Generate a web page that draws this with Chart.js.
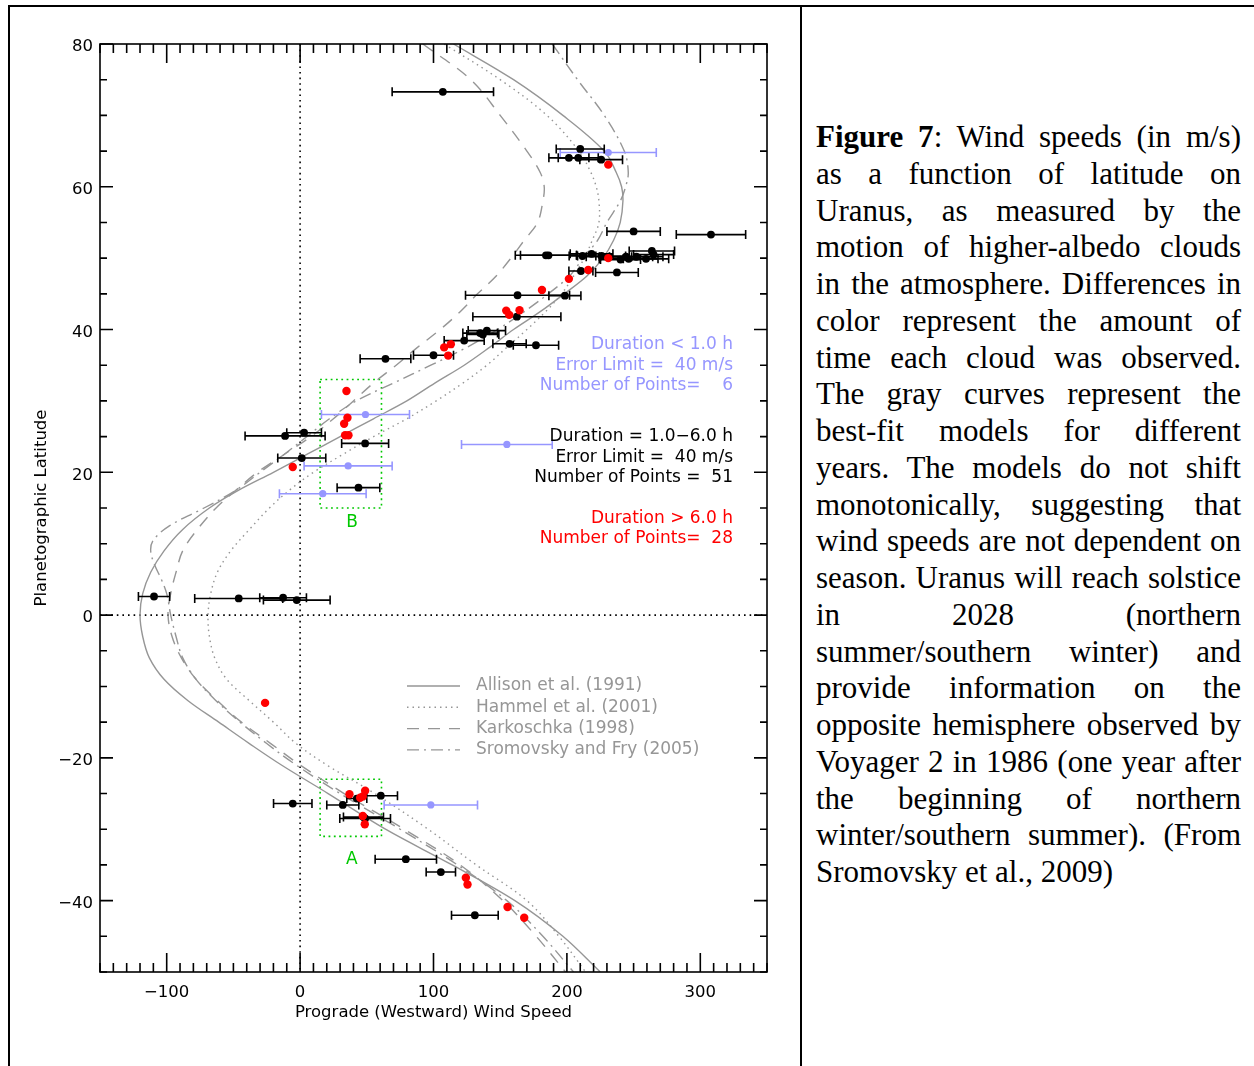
<!DOCTYPE html>
<html><head><meta charset="utf-8">
<script src="https://cdn.jsdelivr.net/npm/chart.js@4.4.1/dist/chart.umd.min.js"></script>
<style>
html,body{margin:0;padding:0;background:#fff;}
body{width:1254px;height:1066px;position:relative;overflow:hidden;}
#wrap{position:absolute;left:0;top:0;width:800px;height:1066px;}
.ln{position:absolute;background:#000;}
#cap{position:absolute;left:816px;top:119px;width:425px;font-family:"Liberation Serif","Times New Roman",serif;font-size:31px;line-height:36.75px;color:#000;}
#cap div{text-align:justify;text-align-last:justify;}
#cap div.last{text-align:left;text-align-last:left;}
</style></head>
<body>
<div class="ln" style="left:8px;top:5px;width:1246px;height:2px"></div>
<div class="ln" style="left:8px;top:5px;width:2px;height:1061px"></div>
<div class="ln" style="left:800px;top:5px;width:2px;height:1061px"></div>
<div id="wrap"><canvas id="c" width="800" height="1066"></canvas></div>
<div id="cap">
<div><b>Figure 7</b>: Wind speeds (in m/s)</div>
<div>as a function of latitude on</div>
<div>Uranus, as measured by the</div>
<div>motion of higher-albedo clouds</div>
<div>in the atmosphere. Differences in</div>
<div>color represent the amount of</div>
<div>time each cloud was observed.</div>
<div>The gray curves represent the</div>
<div>best-fit models for different</div>
<div>years. The models do not shift</div>
<div>monotonically, suggesting that</div>
<div>wind speeds are not dependent on</div>
<div>season. Uranus will reach solstice</div>
<div>in 2028 (northern</div>
<div>summer/southern winter) and</div>
<div>provide information on the</div>
<div>opposite hemisphere observed by</div>
<div>Voyager 2 in 1986 (one year after</div>
<div>the beginning of northern</div>
<div>winter/southern summer). (From</div>
<div class="last">Sromovsky et al., 2009)</div>
</div>
<script>
// ---- axes ----
const xTicks = [-100, 0, 100, 200, 300];
const yTicks = [80, 60, 40, 20, 0, -20, -40];

// ---- observations: Duration < 1.0 h (blue) ----
const blueX   = [231, 49, 155, 36, 17, 98];
const blueY   = [64.8, 28.1, 23.9, 20.9, 17.0, -26.6];
const blueErr = [36, 33, 34, 33, 32.5, 35];

// ---- observations: Duration 1.0-6.0 h (black) ----
const blackX = [107, 210, 201.5, 208.5, 225.7, 250, 308,
  184.3, 186.2, 211.7, 218.5, 226, 231.5, 240.2, 244.3, 246.3, 252, 259.3, 263.7, 265,
  210.5, 237.5, 163, 198.5, 162.5, 135, 140, 137, 123, 157, 176.8, 100, 64,
  -11.25, 3, 48.75, 1.25, 43.75,
  -109.5, -46, -12.75, -2.5,
  -5.5, 32, 42.5, 60.5, 47.5, 48.75, 79.25, 105.5, 131];
const blackY = [73.3, 65.3, 64.05, 64.05, 63.8, 53.75, 53.3,
  50.4, 50.4, 50.3, 50.6, 50.3, 50.2, 49.8, 50.2, 49.9, 50.2, 49.9, 51.0, 50.5,
  48.2, 48.0, 44.8, 44.75, 41.8, 39.5, 39.85, 39.3, 38.45, 38.0, 37.8, 36.4, 35.9,
  25.1, 25.55, 24.05, 22.0, 17.85,
  2.6, 2.33, 2.43, 2.1,
  -26.4, -26.6, -25.7, -25.3, -28.3, -28.5, -34.2, -36.0, -42.05];
const blackErr = [38, 18, 15, 15, 16, 20, 26,
  23, 21, 10, 16, 18, 17, 15, 20, 22, 20, 17, 17, 15,
  9, 16, 39, 12, 33, 13, 14, 12, 15, 12.5, 17, 15, 19,
  30, 13, 17.6, 18, 16,
  11.7, 33, 17.5, 25,
  14.4, 12, 7.5, 12.5, 15, 19, 23, 11, 17.5];

// ---- observations: Duration > 6.0 h (red) ----
const redX = [231, 231, 216, 201.5, 181.3, 154.5, 156.8, 164.5, 108, 113, 111,
  34.75, 35.5, 33, 33.75, 36.25, -5.5, -26.25,
  37, 48.75, 45, 47, 47, 48.5, 124.25, 125.5, 155.5, 168];
const redY = [63.1, 50.0, 48.35, 47.1, 45.55, 42.65, 42.05, 42.7, 37.5, 37.95, 36.35,
  31.4, 27.65, 26.8, 25.2, 25.2, 20.75, -12.3,
  -25.1, -24.6, -25.6, -25.4, -28.15, -29.3, -36.8, -37.75, -40.9, -42.4];

// ---- model curves (latitude -> wind speed) ----
const modelLat = [80,75,70,65,62,60,58,55,52.5,50,47.5,45,42.5,40,37.5,35,32.5,30,27.5,25,22.5,20,17.5,15,12,9,6,3,0,-3,-6,-9,-12,-15,-18,-21,-25,-30,-35,-40,-45,-50];
const allisonX = [115,160,197,228,237,241,242,240,235,227,215,198,180,160,142,123,101,80,55,30,5,-20,-46,-68,-88,-102,-112,-118,-120,-118,-113,-102,-84,-61,-38,-14,21,64,114,161,197,225];
const hammelX  = [108,150,185,209,218,222,224,224,219,213,205,196,184,170,155,140,122,102,80,55,32,10,-8,-23,-38,-52,-62,-67,-69,-68,-64,-55,-38,-20,-3,20,56,96,132,170,194,214];
const karkX    = [92,128,150,170,180,183,182,178,168,158,147,133,120,105,88,72,55,40,25,8,-12,-32,-48,-63,-77,-88,-93,-97,-99,-96,-89,-78,-62,-44,-22,0,33,78,120,152,177,199];
const srLat = [80,75,70,65,62,60,58,55,52.5,50,47.5,45,42.5,40,37.5,35,32.5,30,27.5,25,22.5,20,17.5,15,12.5,10.5,9,7,5,3,0,-3,-6,-9,-12,-15,-18,-21,-25,-30,-35,-40,-45,-50];
const srX   = [189,208,228,243,246,244,240,230,223,212,202,186,168,148,125,98,70,42,22,5,-12,-30,-48,-72,-98,-110,-112,-109,-104,-100,-97,-93,-88,-78,-63,-45,-25,-3,30,75,118,155,182,205];

// ---- annotation boxes ----
const boxAX = [15, 61], boxAY = [-31, -23];
const boxBX = [15, 61], boxBY = [15, 33];
const labelA = [38.75, -34.2], labelB = [39, 13];

const pts = (xs, ys) => xs.map((x, i) => ({x, y: ys[i]}));
const GRAY = 'rgb(150,150,150)';
const BLUE = 'rgb(150,150,255)';
const RED = '#ff0000';
const GREEN = '#00c800';
const FONT = '"DejaVu Sans", sans-serif';

function curve(lat, xs, dash) {
  return {type: 'line', data: pts(xs, lat), borderColor: GRAY, borderWidth: 1.4,
    borderDash: dash, pointRadius: 0, showLine: true, fill: false, tension: 0.35, order: 10};
}

const datasets = [
  curve(modelLat, allisonX, []),
  curve(modelLat, hammelX, [1.5, 4]),
  curve(modelLat, karkX, [12, 9]),
  curve(srLat, srX, [12, 5, 2, 5]),
  {label: 'blue', data: pts(blueX, blueY), errX: blueErr, errColor: BLUE, backgroundColor: BLUE,
    pointRadius: 3.6, pointBorderWidth: 0, order: 3},
  {label: 'black', data: pts(blackX, blackY), errX: blackErr, errColor: '#000', backgroundColor: '#000',
    pointRadius: 3.9, pointBorderWidth: 0, order: 2},
  {label: 'red', data: pts(redX, redY), backgroundColor: RED, pointRadius: 4.2, pointBorderWidth: 0, order: 1}
];

const errPlugin = {
  id: 'err',
  beforeDatasetDraw(chart, args) {
    const ds = chart.data.datasets[args.index];
    if (!ds.errX) return;
    const xs = chart.scales.x, ys = chart.scales.y, ctx = chart.ctx, a = chart.chartArea;
    ctx.save();
    ctx.beginPath(); ctx.rect(a.left, a.top, a.right - a.left, a.bottom - a.top); ctx.clip();
    ctx.strokeStyle = ds.errColor; ctx.lineWidth = 1.6; ctx.setLineDash([]);
    ds.data.forEach((p, i) => {
      const e = ds.errX[i];
      const x1 = xs.getPixelForValue(p.x - e), x2 = xs.getPixelForValue(p.x + e), y = ys.getPixelForValue(p.y);
      ctx.beginPath();
      ctx.moveTo(x1, y); ctx.lineTo(x2, y);
      ctx.moveTo(x1, y - 4.5); ctx.lineTo(x1, y + 4.5);
      ctx.moveTo(x2, y - 4.5); ctx.lineTo(x2, y + 4.5);
      ctx.stroke();
    });
    ctx.restore();
  }
};

const underPlugin = {
  id: 'under',
  beforeDatasetsDraw(chart) {
    const xs = chart.scales.x, ys = chart.scales.y, ctx = chart.ctx, a = chart.chartArea;
    ctx.save();
    ctx.strokeStyle = '#000'; ctx.lineWidth = 1.6; ctx.setLineDash([1.6, 4]);
    const x0 = xs.getPixelForValue(0), y0 = ys.getPixelForValue(0);
    ctx.beginPath(); ctx.moveTo(x0, a.top); ctx.lineTo(x0, a.bottom); ctx.stroke();
    ctx.beginPath(); ctx.moveTo(a.left, y0); ctx.lineTo(a.right, y0); ctx.stroke();
    ctx.strokeStyle = GREEN; ctx.lineWidth = 1.6; ctx.setLineDash([1.8, 3.5]);
    [[boxAX, boxAY], [boxBX, boxBY]].forEach(([bx, by]) => {
      const l = xs.getPixelForValue(bx[0]), r = xs.getPixelForValue(bx[1]);
      const t = ys.getPixelForValue(by[1]), b = ys.getPixelForValue(by[0]);
      ctx.strokeRect(l, t, r - l, b - t);
    });
    ctx.setLineDash([]);
    ctx.fillStyle = GREEN; ctx.font = '17px ' + FONT; ctx.textAlign = 'center'; ctx.textBaseline = 'middle';
    ctx.fillText('A', xs.getPixelForValue(labelA[0]), ys.getPixelForValue(labelA[1]));
    ctx.fillText('B', xs.getPixelForValue(labelB[0]), ys.getPixelForValue(labelB[1]));
    ctx.restore();
  }
};

const framePlugin = {
  id: 'frame',
  afterDraw(chart) {
    const xs = chart.scales.x, ys = chart.scales.y, ctx = chart.ctx, a = chart.chartArea;
    ctx.save();
    ctx.strokeStyle = '#000'; ctx.lineWidth = 1.6; ctx.setLineDash([]);
    ctx.strokeRect(a.left, a.top, a.right - a.left, a.bottom - a.top);
    ctx.beginPath();
    for (let v = xs.min; v <= xs.max + 1e-6; v += 10) {
      const major = xTicks.includes(v);
      const L = major ? 19 : 9, p = xs.getPixelForValue(v);
      ctx.moveTo(p, a.bottom); ctx.lineTo(p, a.bottom - L);
      ctx.moveTo(p, a.top); ctx.lineTo(p, a.top + L);
    }
    for (let v = ys.min; v <= ys.max + 1e-6; v += 5) {
      const major = yTicks.includes(v);
      const L = major ? 13 : 7, p = ys.getPixelForValue(v);
      ctx.moveTo(a.left, p); ctx.lineTo(a.left + L, p);
      ctx.moveTo(a.right, p); ctx.lineTo(a.right - L, p);
    }
    ctx.stroke();

    ctx.font = '17px ' + FONT; ctx.textAlign = 'right'; ctx.textBaseline = 'middle';
    const rx = a.right - 34;
    const groups = [
      [BLUE, [['Duration < 1.0 h', 345], ['Error Limit =  40 m/s', 366], ['Number of Points=    6', 386]]],
      ['#000', [['Duration = 1.0\u22126.0 h', 437], ['Error Limit =  40 m/s', 458], ['Number of Points =  51', 478]]],
      [RED, [['Duration > 6.0 h', 519], ['Number of Points=  28', 539]]]
    ];
    groups.forEach(([col, lines]) => {
      ctx.fillStyle = col;
      lines.forEach(([t, y]) => ctx.fillText(t, rx, y));
    });

    const leg = [['Allison et al. (1991)', []], ['Hammel et al. (2001)', [1.5, 4]],
                 ['Karkoschka (1998)', [12, 9]], ['Sromovsky and Fry (2005)', [12, 5, 2, 5]]];
    ctx.textAlign = 'left';
    leg.forEach(([t, dash], i) => {
      const y = 686 + i * 21.3;
      ctx.strokeStyle = GRAY; ctx.lineWidth = 1.4; ctx.setLineDash(dash);
      ctx.beginPath(); ctx.moveTo(407, y); ctx.lineTo(460, y); ctx.stroke();
      ctx.setLineDash([]);
      ctx.fillStyle = GRAY; ctx.fillText(t, 476, y);
    });
    ctx.restore();
  }
};

const minus = v => String(v).replace('-', '\u2212');

new Chart(document.getElementById('c'), {
  type: 'scatter',
  data: {datasets},
  options: {
    responsive: false, animation: false, devicePixelRatio: 1,
    layout: {padding: {left: 0, top: 44, right: 33, bottom: 0}},
    plugins: {legend: {display: false}, tooltip: {enabled: false}},
    scales: {
      x: {
        type: 'linear', min: -150, max: 350,
        afterBuildTicks: ax => { ax.ticks = xTicks.map(v => ({value: v})); },
        afterFit: s => { s.height = 94; },
        grid: {display: false, drawTicks: false}, border: {display: false},
        ticks: {color: '#000', font: {family: FONT, size: 16.5}, padding: 11, maxRotation: 0, autoSkip: false,
          callback: v => minus(v)},
        title: {display: true, text: 'Prograde (Westward) Wind Speed', color: '#000',
          font: {family: FONT, size: 16.5}, padding: {top: 0, bottom: 43}}
      },
      y: {
        type: 'linear', min: -50, max: 80,
        afterBuildTicks: ax => { ax.ticks = yTicks.map(v => ({value: v})); },
        afterFit: s => { s.width = 100; },
        grid: {display: false, drawTicks: false}, border: {display: false},
        ticks: {color: '#000', font: {family: FONT, size: 16.5}, padding: 7, autoSkip: false, labelOffset: 3,
          callback: v => minus(v)},
        title: {display: true, text: 'Planetographic Latitude', color: '#000',
          font: {family: FONT, size: 16.5}, padding: {top: 32, bottom: 0}}
      }
    }
  },
  plugins: [underPlugin, errPlugin, framePlugin]
});
</script>
</body></html>
